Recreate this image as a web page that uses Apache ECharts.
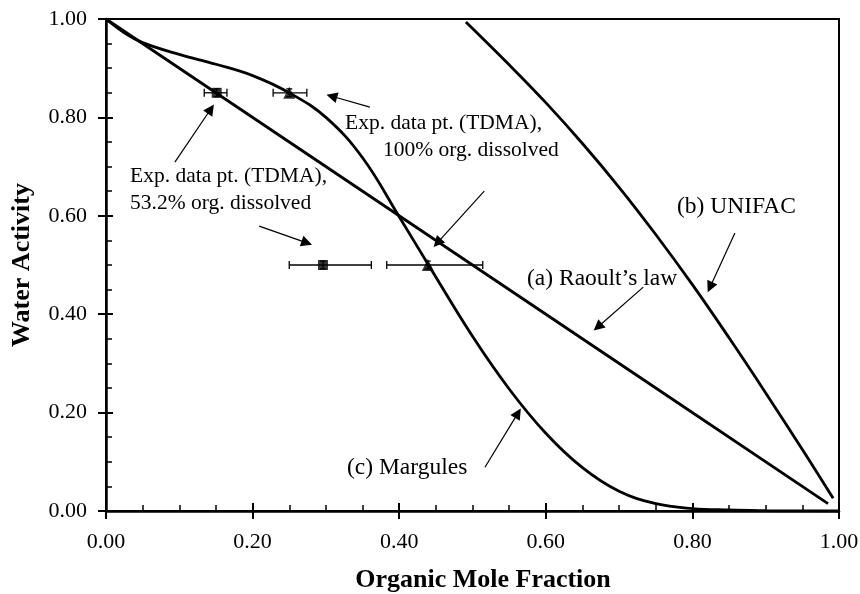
<!DOCTYPE html>
<html>
<head>
<meta charset="utf-8">
<script src="https://cdn.jsdelivr.net/npm/echarts@6/dist/echarts.min.js"></script>
<style>
  html, body { margin: 0; padding: 0; background: #fff; }
  #chart { width: 860px; height: 594px; }
</style>
</head>
<body>
<div id="chart"></div>
<script>
// Water activity vs. organic mole fraction: ideal (Raoult), UNIFAC and Margules curves
const xTicks = [0, 0.2, 0.4, 0.6, 0.8, 1.0];
const yTicks = [0, 0.2, 0.4, 0.6, 0.8, 1.0];

// (a) Raoult's law
const raoultX = [0, 0.25, 0.5, 0.75, 0.985];
const raoultY = [1.0, 0.75, 0.5, 0.25, 0.015];

// (b) UNIFAC
const unifacX = [0.491, 0.55, 0.60, 0.65, 0.70, 0.75, 0.80, 0.85, 0.90, 0.95, 0.992];
const unifacY = [0.994, 0.907, 0.830, 0.747, 0.658, 0.562, 0.460, 0.352, 0.240, 0.125, 0.026];

// (c) Margules
const margulesX = [0, 0.025, 0.05, 0.10, 0.15, 0.20, 0.25, 0.30, 0.35, 0.40, 0.44, 0.50, 0.55, 0.60, 0.65, 0.70, 0.75, 0.80, 0.85, 0.90, 0.95, 1.0];
const margulesY = [1.0, 0.972, 0.952, 0.928, 0.908, 0.885, 0.850, 0.800, 0.718, 0.598, 0.500, 0.355, 0.248, 0.158, 0.088, 0.040, 0.015, 0.005, 0.002, 0.0007, 0.0002, 0];

// TDMA points: 53.2% organic dissolved (squares), 100% dissolved (triangles)
const sqX = [0.151, 0.296];
const sqY = [0.85, 0.50];
const sqXLow = [0.134, 0.250];
const sqXHigh = [0.165, 0.362];
const triX = [0.25, 0.439];
const triY = [0.85, 0.50];
const triXLow = [0.228, 0.383];
const triXHigh = [0.274, 0.514];
const yErr = [0.008, 0.008];

// annotation arrows: tail -> head, in data units
const arrowTail = [[0.094, 0.709], [0.360, 0.821], [0.209, 0.579], [0.516, 0.650], [0.733, 0.455], [0.858, 0.565], [0.517, 0.089]];
const arrowHead = [[0.143, 0.817], [0.308, 0.843], [0.274, 0.545], [0.452, 0.545], [0.671, 0.374], [0.824, 0.455], [0.562, 0.199]];

const zip = (a, b) => a.map((v, i) => [v, b[i]]);
const serif = '"Liberation Serif", "Times New Roman", serif';

const errData = sqX.map((x, i) => [sqXLow[i], sqXHigh[i], sqY[i], x, sqY[i] - yErr[i], sqY[i] + yErr[i]])
  .concat(triX.map((x, i) => [triXLow[i], triXHigh[i], triY[i], x, triY[i] - yErr[i], triY[i] + yErr[i]]));

const chart = echarts.init(document.getElementById('chart'), null, { renderer: 'canvas' });

const fmt = v => v.toFixed(2);
const axisCommon = { type: 'value', min: 0, max: 1, interval: 0.2 };

const option = {
  backgroundColor: '#fff',
  animation: false,
  grid: {
    left: 106, right: 21, top: 19, bottom: 83, containLabel: false, outerBoundsMode: 'none',
    show: true, borderColor: '#000', borderWidth: 2, backgroundColor: 'transparent'
  },
  xAxis: [
    Object.assign({}, axisCommon, {
      position: 'bottom',
      axisLine: { show: true, lineStyle: { color: '#000', width: 2.5 } },
      axisTick: { show: true, inside: false, length: 8, lineStyle: { color: '#000', width: 2 } },
      axisLabel: { formatter: fmt, margin: 20, fontFamily: serif, fontSize: 22, color: '#000' },
      splitLine: { show: false },
      name: 'Organic Mole Fraction', nameLocation: 'middle', nameGap: 56,
      nameTextStyle: { fontFamily: serif, fontWeight: 'bold', fontSize: 26, color: '#000', padding: [0, 0, 0, 21] }
    }),
    Object.assign({}, axisCommon, {
      position: 'bottom',
      axisLine: { show: false },
      axisTick: { show: true, inside: true, length: 8, lineStyle: { color: '#000', width: 2 } },
      minorTick: { show: true, splitNumber: 4, length: 6, lineStyle: { color: '#000', width: 1.5 } },
      axisLabel: { show: false },
      splitLine: { show: false }
    })
  ],
  yAxis: [
    Object.assign({}, axisCommon, {
      position: 'left',
      axisLine: { show: true, lineStyle: { color: '#000', width: 2.5 } },
      axisTick: { show: true, inside: false, length: 8, lineStyle: { color: '#000', width: 2 } },
      axisLabel: { formatter: fmt, margin: 19, fontFamily: serif, fontSize: 22, color: '#000' },
      splitLine: { show: false },
      name: 'Water Activity', nameLocation: 'middle', nameGap: 71,
      nameTextStyle: { fontFamily: serif, fontWeight: 'bold', fontSize: 26, color: '#000' }
    }),
    Object.assign({}, axisCommon, {
      position: 'left',
      axisLine: { show: false },
      axisTick: { show: true, inside: true, length: 7, lineStyle: { color: '#000', width: 2 } },
      minorTick: { show: true, splitNumber: 4, length: 6, lineStyle: { color: '#000', width: 1.5 } },
      axisLabel: { show: false },
      splitLine: { show: false }
    })
  ],
  series: [
    {
      name: 'Raoult', type: 'line', data: zip(raoultX, raoultY), symbol: 'none',
      lineStyle: { color: '#000', width: 2.8 }
    },
    {
      name: 'UNIFAC', type: 'line', data: zip(unifacX, unifacY), symbol: 'none', smooth: 0.4,
      lineStyle: { color: '#000', width: 2.8 }
    },
    {
      name: 'Margules', type: 'line', data: zip(margulesX, margulesY), symbol: 'none', smooth: 0.4,
      lineStyle: { color: '#000', width: 2.8 }
    },
    {
      name: 'error bars', type: 'custom', data: errData,
      encode: { x: [0, 1, 3], y: [2, 4, 5] },
      z: 4,
      renderItem: function (params, api) {
        const y = api.value(2), x = api.value(3);
        const a = api.coord([api.value(0), y]);
        const b = api.coord([api.value(1), y]);
        const c = api.coord([x, api.value(4)]);
        const d = api.coord([x, api.value(5)]);
        const cap = 4, st = { stroke: '#000', lineWidth: 1.3 };
        return {
          type: 'group', children: [
            { type: 'line', shape: { x1: a[0], y1: a[1], x2: b[0], y2: b[1] }, style: st },
            { type: 'line', shape: { x1: a[0], y1: a[1] - cap, x2: a[0], y2: a[1] + cap }, style: st },
            { type: 'line', shape: { x1: b[0], y1: b[1] - cap, x2: b[0], y2: b[1] + cap }, style: st },
            { type: 'line', shape: { x1: c[0], y1: c[1], x2: d[0], y2: d[1] }, style: st },
            { type: 'line', shape: { x1: c[0] - 3, y1: c[1], x2: c[0] + 3, y2: c[1] }, style: st },
            { type: 'line', shape: { x1: d[0] - 3, y1: d[1], x2: d[0] + 3, y2: d[1] }, style: st }
          ]
        };
      }
    },
    {
      name: '53.2% dissolved', type: 'scatter', data: zip(sqX, sqY), symbol: 'rect', symbolSize: 10, z: 5,
      itemStyle: { color: '#000' }
    },
    {
      name: '100% dissolved', type: 'scatter', data: zip(triX, triY), symbol: 'triangle', symbolSize: 12, z: 5,
      itemStyle: { color: '#000' }
    },
    {
      name: 'arrows', type: 'lines', coordinateSystem: 'cartesian2d', z: 6,
      symbol: ['none', 'triangle'], symbolSize: 11,
      lineStyle: { color: '#000', width: 1.2, opacity: 1, curveness: 0 },
      data: arrowTail.map((t, i) => ({ coords: [t, arrowHead[i]] }))
    }
  ],
  graphic: [
    { type: 'text', x: 130, y: 176, style: { text: 'Exp. data pt. (TDMA),', font: '21.5px ' + serif, fill: '#000', verticalAlign: 'middle' } },
    { type: 'text', x: 130, y: 203, style: { text: '53.2% org. dissolved', font: '21.5px ' + serif, fill: '#000', verticalAlign: 'middle' } },
    { type: 'text', x: 345, y: 123, style: { text: 'Exp. data pt. (TDMA),', font: '21.5px ' + serif, fill: '#000', verticalAlign: 'middle' } },
    { type: 'text', x: 383, y: 150, style: { text: '100% org. dissolved', font: '21.5px ' + serif, fill: '#000', verticalAlign: 'middle' } },
    { type: 'text', x: 527, y: 279, style: { text: '(a) Raoult\u2019s law', font: '23.5px ' + serif, fill: '#000', verticalAlign: 'middle' } },
    { type: 'text', x: 677, y: 207, style: { text: '(b) UNIFAC', font: '23.5px ' + serif, fill: '#000', verticalAlign: 'middle' } },
    { type: 'text', x: 347, y: 468, style: { text: '(c) Margules', font: '23.5px ' + serif, fill: '#000', verticalAlign: 'middle' } }
  ]
};

chart.setOption(option);
</script>
</body>
</html>
